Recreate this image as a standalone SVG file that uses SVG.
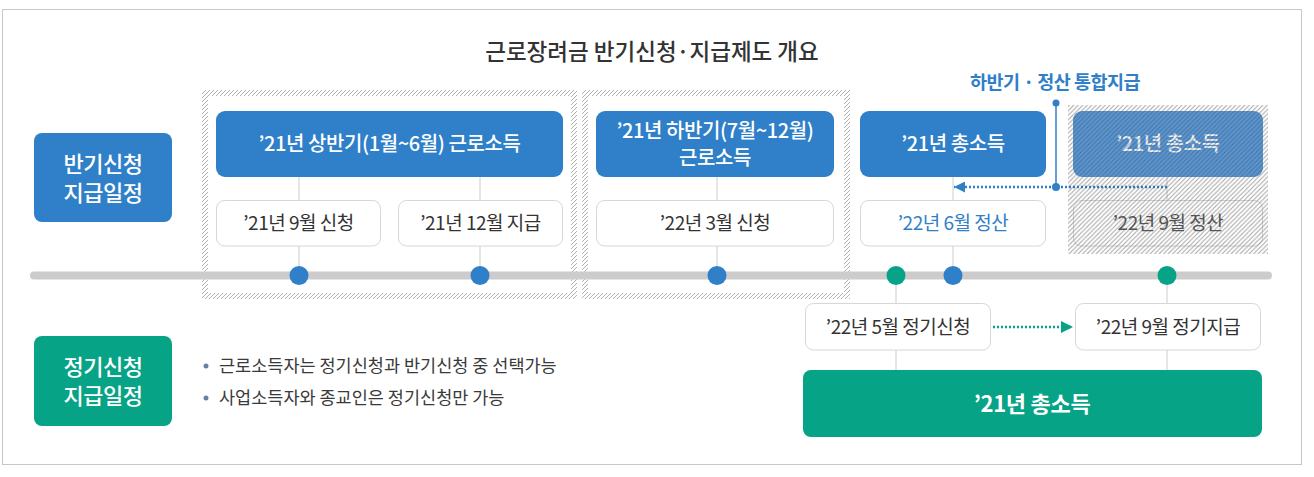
<svg xmlns="http://www.w3.org/2000/svg" width="1314" height="477" viewBox="0 0 1314 477">
<defs>
<pattern id="hatchB" patternUnits="userSpaceOnUse" width="4" height="4">
<path d="M-1,1 l2,-2 M0,4 l4,-4 M3,5 l2,-2" stroke="#a8a8a8" stroke-width="0.9"/>
</pattern>
<pattern id="hatchR" patternUnits="userSpaceOnUse" width="4.5" height="4.5">
<path d="M-1,1 l2,-2 M0,4.5 l4.5,-4.5 M3.5,5.5 l2,-2" stroke="#4a4a4a" stroke-opacity="0.5" stroke-width="1"/>
</pattern>
<marker id="arrBlue" viewBox="0 0 10 10" refX="10" refY="5" markerWidth="12" markerHeight="11" markerUnits="userSpaceOnUse" orient="auto">
<path d="M0,0 L10,5 L0,10 Z" fill="#2f7fc9"/>
</marker>
<marker id="arrGreen" viewBox="0 0 10 10" refX="10" refY="5" markerWidth="13" markerHeight="12" markerUnits="userSpaceOnUse" orient="auto">
<path d="M0,0 L10,5 L0,10 Z" fill="#07a386"/>
</marker>
</defs>
<style>
text{font-family:"Noto Sans CJK KR","Noto Sans",sans-serif;}
.blue{fill:#2f7fc9;}
.green{fill:#07a386;}
.wbox{fill:#fff;stroke:#d6d6d6;stroke-width:1;}
.wt{fill:#fff;font-size:20px;font-weight:500;text-anchor:middle;letter-spacing:-0.4px;}
.dt{fill:#333;font-size:19px;text-anchor:middle;letter-spacing:-0.5px;}
.lbl{fill:#fff;font-size:22px;font-weight:500;text-anchor:middle;letter-spacing:-0.5px;}
.conn{stroke:#cccccc;stroke-width:1;fill:none;}
.region{fill:none;stroke:url(#hatchB);stroke-width:6;}
.bul{fill:#3a3a3a;font-size:17.5px;}
</style>
<rect x="0" y="0" width="1314" height="477" fill="#fff"/>
<rect x="2.5" y="9.5" width="1299" height="455" fill="#fff" stroke="#c8c8c8" stroke-width="1"/>

<g id="title">
<text x="652" y="60" text-anchor="middle" font-size="22.5" fill="#333" font-weight="500">근로장려금 반기신청·지급제도 개요</text>
</g>

<g id="regions">
<rect class="region" x="205" y="93" width="369" height="203"/>
<rect class="region" x="585" y="93" width="262" height="203"/>
</g>

<g id="timeline">
<line x1="34" y1="275.5" x2="1268" y2="275.5" stroke="#cccccc" stroke-width="8" stroke-linecap="round"/>
</g>

<g id="connectors">
<line class="conn" x1="299" y1="177" x2="299" y2="200"/>
<line class="conn" x1="299" y1="246" x2="299" y2="275"/>
<line class="conn" x1="480" y1="177" x2="480" y2="200"/>
<line class="conn" x1="480" y1="246" x2="480" y2="275"/>
<line class="conn" x1="717" y1="177" x2="717" y2="200"/>
<line class="conn" x1="717" y1="246" x2="717" y2="275"/>
<line class="conn" x1="953" y1="177" x2="953" y2="200"/>
<line class="conn" x1="953" y1="246" x2="953" y2="275"/>
<line class="conn" x1="896" y1="275" x2="896" y2="303"/>
<line class="conn" x1="896" y1="350" x2="896" y2="370"/>
<line class="conn" x1="1167" y1="275" x2="1167" y2="303"/>
<line class="conn" x1="1167" y1="350" x2="1167" y2="370"/>
<line class="conn" x1="1167" y1="177" x2="1167" y2="200"/>
<line x1="1056" y1="103" x2="1056" y2="187" stroke="#2f7fc9" stroke-width="1.5"/>
<circle cx="1056" cy="103" r="3.5" fill="#2f7fc9"/>
<circle cx="1056" cy="187" r="4" fill="#2f7fc9"/>
<line x1="1167" y1="187" x2="954" y2="187" stroke="#2f7fc9" stroke-width="2.5" stroke-dasharray="2 2" marker-end="url(#arrBlue)"/>
<line x1="993" y1="327" x2="1073" y2="327" stroke="#07a386" stroke-width="2.5" stroke-dasharray="2 2" marker-end="url(#arrGreen)"/>
</g>

<g id="label-half">
<rect class="blue" x="34" y="133" width="138" height="89" rx="8"/>
<text class="lbl" x="103" y="172">반기신청</text>
<text class="lbl" x="103" y="201">지급일정</text>
</g>
<g id="label-regular">
<rect class="green" x="34" y="336" width="138" height="90" rx="8"/>
<text class="lbl" x="103" y="375">정기신청</text>
<text class="lbl" x="103" y="404">지급일정</text>
</g>

<g id="node-h1">
<rect class="blue" x="216" y="111" width="347" height="66" rx="9"/>
<text class="wt" x="389.5" y="151">’21년 상반기(1월~6월) 근로소득</text>
</g>
<g id="node-h1-apply">
<rect class="wbox" x="216.5" y="200.5" width="164" height="45.5" rx="8"/>
<text class="dt" x="298.5" y="230">’21년 9월 신청</text>
</g>
<g id="node-h1-pay">
<rect class="wbox" x="398.5" y="200.5" width="164" height="45.5" rx="8"/>
<text class="dt" x="480.5" y="230">’21년 12월 지급</text>
</g>

<g id="node-h2">
<rect class="blue" x="596" y="111" width="238" height="66" rx="9"/>
<text class="wt" x="715" y="138">’21년 하반기(7월~12월)</text>
<text class="wt" x="715" y="165">근로소득</text>
</g>
<g id="node-h2-apply">
<rect class="wbox" x="596.5" y="200.5" width="237" height="45.5" rx="8"/>
<text class="dt" x="715" y="230">’22년 3월 신청</text>
</g>

<g id="node-total">
<rect class="blue" x="860" y="111" width="186" height="66" rx="9"/>
<text class="wt" x="953" y="151">’21년 총소득</text>
</g>
<g id="node-settle">
<rect class="wbox" x="860.5" y="200.5" width="185" height="45.5" rx="8"/>
<text class="dt" x="953" y="230" style="fill:#2f7fc9">’22년 6월 정산</text>
</g>

<g id="node-old">
<rect x="1073" y="111" width="190" height="66" rx="9" fill="#5796d6"/>
<text class="wt" x="1168" y="151" style="fill:#f4f8fc">’21년 총소득</text>
<rect x="1073.5" y="200.5" width="189" height="45.5" rx="8" fill="none" stroke="#d6d6d6"/>
<text class="dt" x="1168" y="230" style="fill:#555">’22년 9월 정산</text>
<rect x="1068" y="105" width="200" height="149" fill="url(#hatchR)"/>
</g>

<g id="note-merge">
<text x="1055" y="89" text-anchor="middle" font-size="18.5" font-weight="700" fill="#2f7fc9" letter-spacing="-0.5">하반기 · 정산 통합지급</text>
</g>

<g id="dots">
<circle cx="299" cy="275.5" r="9.5" fill="#2f7fc9"/>
<circle cx="480" cy="275.5" r="9.5" fill="#2f7fc9"/>
<circle cx="717" cy="275.5" r="9.5" fill="#2f7fc9"/>
<circle cx="896" cy="275.5" r="9.5" fill="#07a386"/>
<circle cx="953" cy="275.5" r="9.5" fill="#2f7fc9"/>
<circle cx="1167" cy="275.5" r="9.5" fill="#07a386"/>
</g>

<g id="node-reg-apply">
<rect class="wbox" x="805.5" y="303.5" width="185" height="46.5" rx="8"/>
<text class="dt" x="898" y="334">’22년 5월 정기신청</text>
</g>
<g id="node-reg-pay">
<rect class="wbox" x="1075.5" y="303.5" width="185" height="46.5" rx="8"/>
<text class="dt" x="1168" y="334">’22년 9월 정기지급</text>
</g>
<g id="node-reg-total">
<rect class="green" x="803" y="370" width="459" height="67" rx="8"/>
<text x="1032" y="412" text-anchor="middle" font-size="22" font-weight="700" fill="#fff" letter-spacing="-0.3">’21년 총소득</text>
</g>

<g id="notes">
<circle cx="206" cy="366" r="2.5" fill="#6b7fa3"/>
<text class="bul" x="219" y="372">근로소득자는 정기신청과 반기신청 중 선택가능</text>
<circle cx="206" cy="398" r="2.5" fill="#6b7fa3"/>
<text class="bul" x="219" y="404">사업소득자와 종교인은 정기신청만 가능</text>
</g>
</svg>
